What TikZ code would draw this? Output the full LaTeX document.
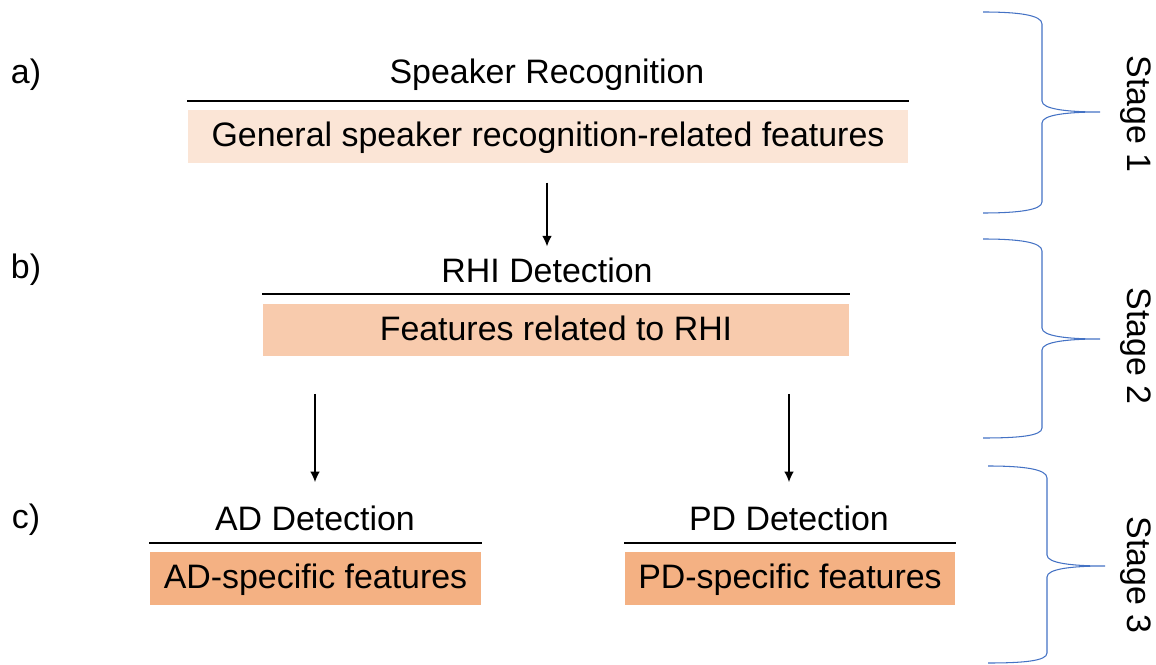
\documentclass[tikz,border=0pt]{standalone}
\usepackage{fontspec}
\setmainfont{Liberation Sans}
\usetikzlibrary{arrows.meta}

\definecolor{featlight}{HTML}{FBE5D6}
\definecolor{featmid}{HTML}{F8CBAD}
\definecolor{featdark}{HTML}{F4B183}
\definecolor{bracecol}{HTML}{4472C4}

\tikzset{
  txt/.style={font=\fontsize{19.3}{23}\selectfont,inner sep=0pt},
  featbox/.style={txt,minimum height=1.05cm,text depth=0.25em},
  rule/.style={-,line width=1.2pt},
  stagebrace/.style={-,draw=bracecol,line width=0.6pt},
}

\begin{document}
\begin{tikzpicture}[x=0.02cm,y=-0.02cm,->,>={Latex[length=6pt,width=5.5pt]},line width=0.7pt]
  \useasboundingbox (0,0) rectangle (1156,665);

  % stage 1
  \node[txt] (lbla) at (26,75) {a)};
  \node[txt] (spkrec) at (547,75) {Speaker Recognition};
  \node[featbox,fill=featlight,minimum width=14.4cm] (genfeat) at (548,136.5) {General speaker recognition-related features};
  \draw[rule] ([yshift=5pt]genfeat.north west) -- ([yshift=5pt]genfeat.north east);

  % stage 2
  \node[txt] (lblb) at (26,270) {b)};
  \node[txt] (rhidet) at (547,270) {RHI Detection};
  \node[featbox,fill=featmid,minimum width=11.72cm] (rhifeat) at (556,330) {Features related to RHI};
  \draw[rule] ([yshift=5pt]rhifeat.north west) -- ([yshift=5pt]rhifeat.north east);
  \draw[shorten <=11pt,shorten >=6pt] (genfeat.south -| rhidet) -- (rhidet);

  % stage 3
  \node[txt] (lblc) at (26,520) {c)};
  \node[txt] (addet) at (315,518) {AD Detection};
  \node[txt] (pddet) at (789,518) {PD Detection};
  \node[featbox,fill=featdark,minimum width=6.62cm] (adfeat) at (315.5,578.5) {AD-specific features};
  \node[featbox,fill=featdark,minimum width=6.6cm] (pdfeat) at (790,578.5) {PD-specific features};
  \foreach \n in {adfeat,pdfeat}
    \draw[rule] ([yshift=5pt]\n.north west) -- ([yshift=5pt]\n.north east);
  \foreach \to in {addet,pddet}
    \draw[shorten <=21pt,shorten >=13pt] (rhifeat.south -| \to) -- (\to);

  % braces
  \draw[stagebrace] (983,12) .. controls (1018,12) and (1042,15) .. (1042,24) -- (1042,101)
    .. controls (1042,109) and (1066,112) .. (1100,112) .. controls (1066,112) and (1042,115) .. (1042,123)
    -- (1042,202) .. controls (1042,210) and (1018,213) .. (983,213);
  \draw[stagebrace] (983,239) .. controls (1018,239) and (1042,242) .. (1042,251) -- (1042,328)
    .. controls (1042,336) and (1066,339) .. (1100,339) .. controls (1066,339) and (1042,342) .. (1042,350)
    -- (1042,428) .. controls (1042,436) and (1018,438) .. (983,438);
  \draw[stagebrace] (988,466) .. controls (1023,466) and (1047,469) .. (1047,478) -- (1047,555)
    .. controls (1047,563) and (1071,566) .. (1105,566) .. controls (1071,566) and (1047,569) .. (1047,577)
    -- (1047,653) .. controls (1047,661) and (1023,663) .. (988,663);
  \node[txt,rotate=-90] (stage1) at (1136,114) {Stage 1};
  \node[txt,rotate=-90] (stage2) at (1136,346) {Stage 2};
  \node[txt,rotate=-90] (stage3) at (1136,575) {Stage 3};
\end{tikzpicture}
\end{document}
